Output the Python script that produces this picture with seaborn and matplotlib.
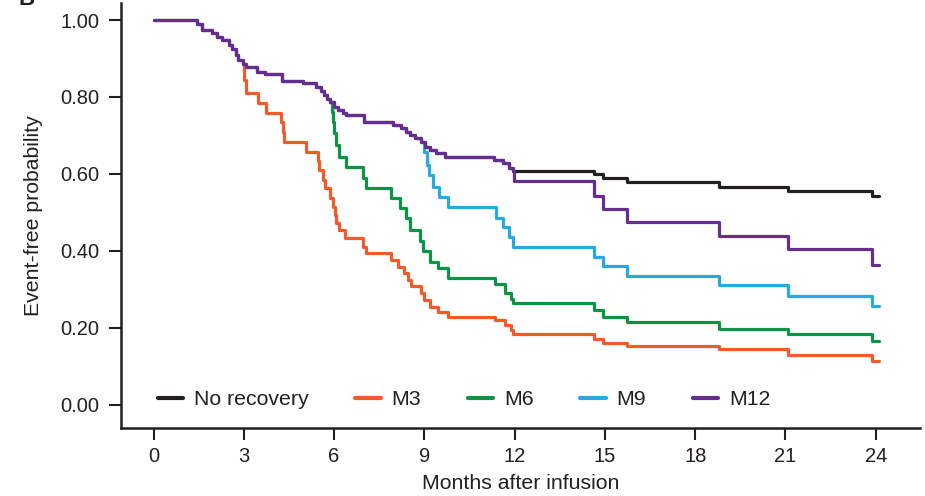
import matplotlib
matplotlib.use("Agg")
import numpy as np
import pandas as pd
import matplotlib.pyplot as plt
import seaborn as sns

# ---------------- data ----------------
groups = ["No recovery", "M3", "M6", "M9", "M12"]
colors = ["#231f20", "#f15a29", "#0b9444", "#27aae1", "#662d91"]

# common (no recovery) curve
base_t = [0, 1.43, 1.6, 1.93, 2.1, 2.27, 2.5, 2.6, 2.75, 2.82,
          2.98, 3.09, 3.43, 3.71, 4.26, 4.98, 5.4, 5.55, 5.65, 5.76,
          5.88, 6.01, 6.13, 6.29, 6.4, 7.0, 7.96, 8.23, 8.4, 8.51,
          8.7, 8.9, 9.01, 9.18, 9.4, 9.7, 11.3, 11.6, 11.8, 11.94,
          14.65, 14.95, 15.73, 18.8, 21.1, 23.86, 24.1]
base_s = [1.0, 0.99, 0.975, 0.965, 0.955, 0.948, 0.935, 0.925, 0.91, 0.895,
          0.885, 0.877, 0.866, 0.86, 0.842, 0.836, 0.826, 0.815, 0.805, 0.795,
          0.788, 0.775, 0.766, 0.758, 0.753, 0.736, 0.727, 0.719, 0.710, 0.701,
          0.693, 0.684, 0.671, 0.662, 0.654, 0.645, 0.636, 0.628, 0.615, 0.608,
          0.599, 0.589, 0.578, 0.565, 0.556, 0.542, 0.542]

m3_t = [2.98, 3.0, 3.06, 3.47, 3.74, 4.24, 4.3, 4.35, 5.07, 5.46, 5.51, 5.63,
        5.7, 5.85, 5.95, 6.02, 6.08, 6.18, 6.35, 6.95, 7.06, 7.9, 8.12, 8.34,
        8.45, 8.56, 8.9, 9.0, 9.18, 9.46, 9.78, 11.34, 11.67, 11.89, 11.94,
        14.65, 14.95, 15.73, 18.8, 21.1, 23.86, 24.1]
m3_s = [0.885, 0.845, 0.81, 0.784, 0.758, 0.735, 0.71, 0.684, 0.658, 0.635, 0.61, 0.584,
        0.563, 0.537, 0.515, 0.494, 0.472, 0.455, 0.433, 0.411, 0.394, 0.377, 0.359, 0.342,
        0.325, 0.309, 0.290, 0.273, 0.255, 0.242, 0.229, 0.221, 0.208, 0.195, 0.184,
        0.171, 0.161, 0.152, 0.144, 0.129, 0.115, 0.115]

m6_t = [5.88, 5.92, 5.96, 6.0, 6.05, 6.18, 6.38, 6.95, 7.06, 7.9, 8.18, 8.4,
        8.52, 8.85, 8.95, 9.18, 9.46, 9.78, 11.34, 11.67, 11.89, 11.94,
        14.65, 14.95, 15.73, 18.8, 21.1, 23.86, 24.1]
m6_s = [0.788, 0.762, 0.735, 0.706, 0.675, 0.645, 0.619, 0.589, 0.563, 0.537, 0.511, 0.485,
        0.455, 0.425, 0.40, 0.372, 0.355, 0.329, 0.314, 0.292, 0.274, 0.264,
        0.247, 0.229, 0.215, 0.197, 0.184, 0.165, 0.165]

m9_t = [8.9, 9.0, 9.08, 9.15, 9.3, 9.5, 9.78, 11.39, 11.6, 11.8, 11.94,
        14.65, 14.95, 15.73, 18.8, 21.1, 23.86, 24.1]
m9_s = [0.684, 0.658, 0.623, 0.597, 0.567, 0.541, 0.515, 0.485, 0.463, 0.437, 0.411,
        0.385, 0.360, 0.335, 0.311, 0.283, 0.256, 0.256]

m12_t = [11.97, 14.65, 14.95, 15.73, 18.8, 21.1, 23.86, 24.1]
m12_s = [0.582, 0.544, 0.509, 0.476, 0.438, 0.405, 0.364, 0.364]

# ---------------- build long table ----------------
def frame(name, t, s):
    return pd.DataFrame({"Months": t, "EFS": s, "Group": name})

pre12_t = [t for t in base_t if t <= 11.94]
pre12_s = base_s[:len(pre12_t)]
df = pd.concat([
    frame("No recovery", base_t, base_s),
    frame("M3", m3_t, m3_s),
    frame("M6", m6_t, m6_s),
    frame("M9", m9_t, m9_s),
    frame("M12", pre12_t + m12_t, pre12_s + m12_s),
], ignore_index=True)

# ---------------- plot ----------------
sns.set_theme(style="ticks")
plt.rcParams["font.family"] = ["Liberation Sans", "DejaVu Sans"]
ink = "#231f20"

W, H = 925, 496
fig = plt.figure(figsize=(W / 100, H / 100), dpi=100)
ax = fig.add_axes([121 / W, 68 / H, (920 - 121) / W, 425.3 / H])

sns.lineplot(data=df, x="Months", y="EFS", hue="Group", hue_order=groups,
             palette=colors, drawstyle="steps-post", estimator=None,
             linewidth=2.3, ax=ax)

ax.set_xlim(-1.08, 25.47)
ax.set_ylim(-0.06, 1.045)
ax.set_xticks(range(0, 25, 3))
yt = [0.0, 0.2, 0.4, 0.6, 0.8, 1.0]
ax.set_yticks(yt)
ax.set_yticklabels([f"{v:.2f}" for v in yt])

sns.despine(ax=ax)
for sp in ["left", "bottom"]:
    ax.spines[sp].set_linewidth(1.8)
    ax.spines[sp].set_color(ink)
ax.tick_params(direction="out", length=8.5, width=1.5, color=ink,
               labelsize=14.5, labelcolor=ink)
ax.tick_params(axis="y", pad=7)
ax.tick_params(axis="x", pad=5)

ax.set_xlabel("Months after infusion", fontsize=15.3, color=ink)
ax.set_ylabel("Event-free probability", fontsize=15.3, color=ink)
ax.xaxis.set_label_coords(0.5, -0.108)
ax.yaxis.set_label_coords(-0.098, 0.5)

handles, labels = ax.get_legend_handles_labels()
for h in handles:
    h.set_linewidth(3)
ax.legend(handles, labels, ncol=5, loc="center left",
          bbox_to_anchor=(0.046, 0.066), frameon=False, borderpad=0,
          borderaxespad=0, handlelength=1.2, handletextpad=0.5,
          columnspacing=2.2, fontsize=15.3, labelcolor=ink)

fig.text(18 / W, 1 - 5 / H, "B", fontsize=16, fontweight="bold",
         va="baseline", ha="left", color=ink)

fig.savefig("out.png", dpi=100)
